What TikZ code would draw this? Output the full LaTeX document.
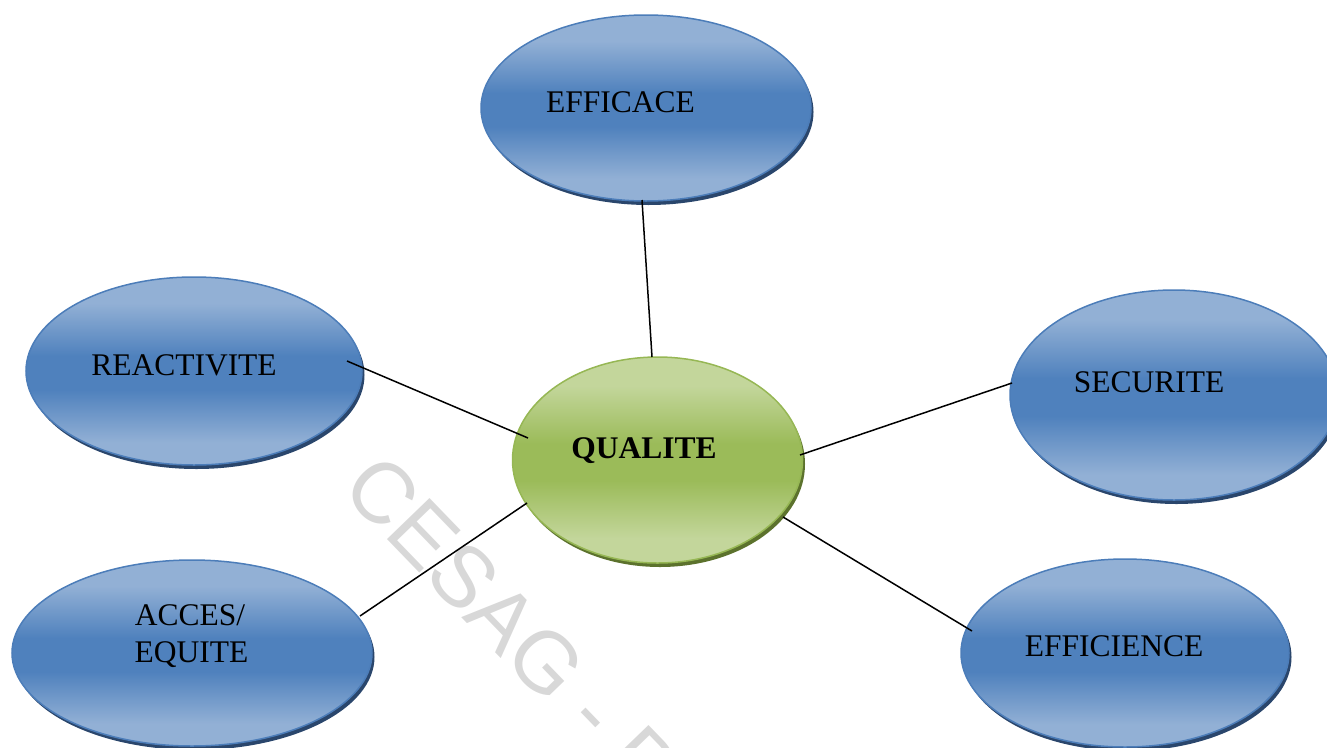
\documentclass[tikz,border=0pt]{standalone}
\usepackage{fontspec}
\setmainfont{Liberation Serif}
\newfontfamily\marksans{Liberation Sans}
\usetikzlibrary{shapes.geometric,shadows,calc}

\definecolor{blueL}{RGB}{146,176,213}
\definecolor{blueM}{RGB}{79,129,189}
\definecolor{blueB}{RGB}{76,125,185}
\definecolor{blueS}{RGB}{42,70,108}
\definecolor{greenL}{RGB}{195,214,155}
\definecolor{greenM}{RGB}{155,187,89}
\definecolor{greenB}{RGB}{150,183,84}
\definecolor{greenS}{RGB}{92,114,45}
\definecolor{markgray}{RGB}{216,216,216}

% glossy band: light at top and bottom, dark in the middle
\pgfdeclareverticalshading{bluegloss}{100bp}{color(0bp)=(blueL); color(31bp)=(blueL); color(45bp)=(blueM); color(54bp)=(blueM); color(68bp)=(blueL); color(100bp)=(blueL)}
\pgfdeclareverticalshading{greengloss}{100bp}{color(0bp)=(greenL); color(31bp)=(greenL); color(45bp)=(greenM); color(54bp)=(greenM); color(68bp)=(greenL); color(100bp)=(greenL)}

\tikzset{
  oval/.style={ellipse, inner sep=0pt, outer sep=0pt, line width=1.5pt},
  blueoval/.style={oval, draw=blueB, shade, shading=bluegloss,
    general shadow={fill=blueS, shadow xshift=2.5pt, shadow yshift=-4pt}},
  greenoval/.style={oval, draw=greenB, shade, shading=greengloss,
    general shadow={fill=greenS, shadow xshift=2.5pt, shadow yshift=-4pt}},
  lbl/.style={font=\fontsize{31.5}{37}\selectfont, anchor=base, inner sep=0pt},
  link/.style={draw=black, line width=1.5pt},
  stamp/.style={font=\marksans\fontsize{86}{86}\selectfont, text=markgray,
    anchor=base west, inner sep=0pt, rotate=-46}
}

\begin{document}
\begin{tikzpicture}[x=1pt, y=-1pt]
\useasboundingbox (0,0) rectangle (1327,747);

% watermark
\node[stamp] (stamp) at (339,490) {CESAG - B};

% ovals
\node[blueoval, minimum width=330pt, minimum height=186pt] (efficace) at (646,108) {};
\node[blueoval, minimum width=336pt, minimum height=188pt] (reactivite) at (194,371) {};
\node[blueoval, minimum width=328pt, minimum height=210pt] (securite) at (1174,395) {};
\node[blueoval, minimum width=360pt, minimum height=186pt] (acces) at (192,653) {};
\node[blueoval, minimum width=328pt, minimum height=188pt] (efficience) at (1125,653) {};
\node[greenoval, minimum width=290pt, minimum height=206pt] (qualite) at (657.5,460) {};

% links to the centre
\draw[link] ($(efficace.center)+(-4,92)$) -- ($(qualite.center)+(-5.5,-103)$);
\draw[link] ($(reactivite.center)+(153,-10)$) -- ($(qualite.center)+(-129.5,-22)$);
\draw[link] ($(securite.center)+(-162,-12)$) -- ($(qualite.center)+(142.5,-5)$);
\draw[link] ($(acces.center)+(168,-37)$) -- ($(qualite.center)+(-130.5,43)$);
\draw[link] ($(efficience.center)+(-153,-22)$) -- ($(qualite.center)+(125.5,57)$);

% labels
\node[lbl] (efficace-t) at (620.5,112) {EFFICACE};
\node[lbl] (reactivite-t) at (184,375) {REACTIVITE};
\node[lbl] (securite-t) at (1149,392) {SECURITE};
\node[lbl] (efficience-t) at (1114,656) {EFFICIENCE};
\node[lbl] (acces-t1) at (190,625) {ACCES/};
\node[lbl] (acces-t2) at (191.5,662) {EQUITE};
\node[lbl, font=\fontsize{31.5}{37}\selectfont\bfseries] (qualite-t) at (644,458) {QUALITE};
\end{tikzpicture}
\end{document}
